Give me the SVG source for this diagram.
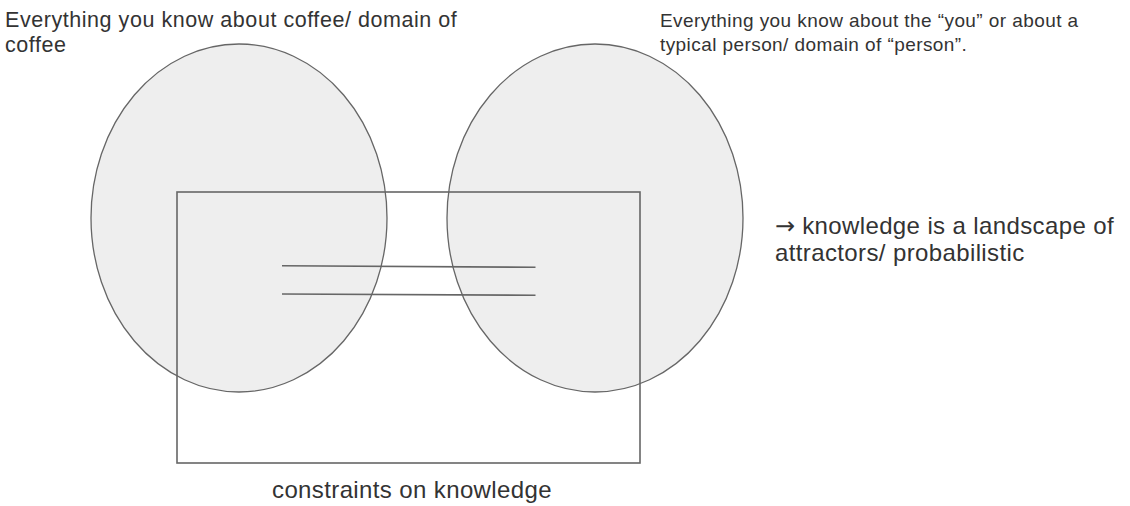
<svg xmlns="http://www.w3.org/2000/svg" width="1130" height="506" viewBox="0 0 1130 506">
  <style>
    .domain { fill: #eeeeee; stroke: #666666; stroke-width: 1.3; }
    .frame { fill: none; stroke: #666666; stroke-width: 1.6; }
    .link { fill: none; stroke: #666666; stroke-width: 1.6; }
    text { font-family: "Liberation Sans", Arial, sans-serif; fill: #333333; }
    .caption { font-size: 21.5px; letter-spacing: 0.55px; }
    .small { font-size: 19px; letter-spacing: 0.42px; }
    .large { font-size: 24px; letter-spacing: 0.38px; }
    .arrow { font-family: "DejaVu Sans", sans-serif; font-size: 24px; letter-spacing: 0; }
  </style>
  <rect width="1130" height="506" fill="#ffffff"/>

  <!-- domain of coffee -->
  <g id="coffee">
    <ellipse class="domain" cx="239" cy="218" rx="148" ry="174"/>
    <text class="caption" x="5" y="27">Everything you know about coffee/ domain of</text>
    <text class="caption" x="5" y="52">coffee</text>
  </g>

  <!-- domain of person -->
  <g id="person">
    <ellipse class="domain" cx="595" cy="218" rx="148" ry="174"/>
    <text class="small" x="660" y="27">Everything you know about the “you” or about a</text>
    <text class="small" x="660" y="51">typical person/ domain of “person”.</text>
  </g>

  <!-- constraints frame -->
  <g id="constraints">
    <rect class="frame" x="177" y="192" width="463" height="271"/>
    <text class="large" x="272" y="498">constraints on knowledge</text>
  </g>

  <!-- note -->
  <g id="note">
    <text class="large" x="775" y="234"><tspan class="arrow">→</tspan> knowledge is a landscape of</text>
    <text class="large" x="775" y="261">attractors/ probabilistic</text>
  </g>

  <!-- links between the two domains -->
  <g id="connectors">
    <line class="link" x1="282" y1="265.7" x2="535.5" y2="267.3"/>
    <line class="link" x1="282" y1="294" x2="535.5" y2="295.3"/>
  </g>
</svg>
